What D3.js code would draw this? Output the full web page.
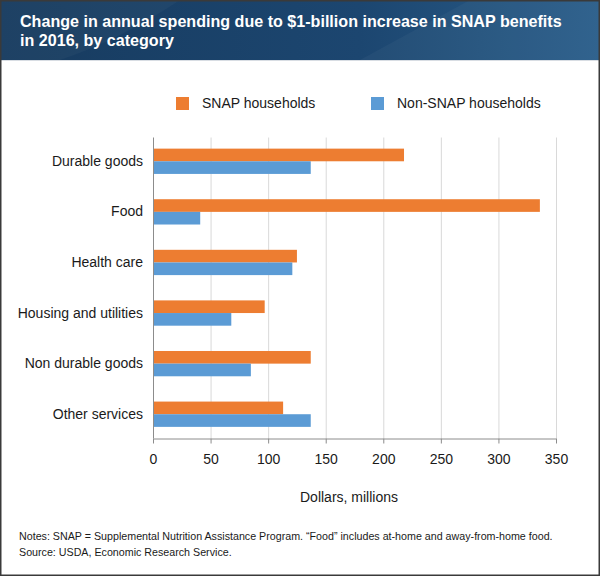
<!DOCTYPE html>
<html><head><meta charset="utf-8">
<script src="https://cdn.jsdelivr.net/npm/d3@7"></script>
<style>
html,body{margin:0;padding:0;background:#fff;}
svg{display:block;font-family:"Liberation Sans",Arial,Helvetica,sans-serif;}
</style></head>
<body>
<svg id="c" width="600" height="576"></svg>
<script>
const categories = ["Durable goods","Food","Health care","Housing and utilities","Non durable goods","Other services"];
const seriesNames = ["SNAP households","Non-SNAP households"];
const snapValues = [218, 336, 125, 97, 137, 113];
const nonSnapValues = [137, 41, 121, 68, 85, 137];
const xTicks = [0,50,100,150,200,250,300,350];
const titleLines = ["Change in annual spending due to $1-billion increase in SNAP benefits","in 2016, by category"];
const notes = ["Notes: SNAP = Supplemental Nutrition Assistance Program. \u201cFood\u201d includes at-home and away-from-home food.","Source: USDA, Economic Research Service."];
const colors = ["#ED7D31","#5B9BD5"];

const svg = d3.select("#c");
const W = 600, H = 576;

// header
const defs = svg.append("defs");
const g1 = defs.append("linearGradient").attr("id","hg").attr("x1","0").attr("x2","1").attr("y1","0").attr("y2","0");
g1.append("stop").attr("offset","0").attr("stop-color","#173b5f");
g1.append("stop").attr("offset","0.6").attr("stop-color","#1c4670");
g1.append("stop").attr("offset","1").attr("stop-color","#2a5e8a");
svg.append("rect").attr("x",0).attr("y",0).attr("width",W).attr("height",60).attr("fill","url(#hg)");
svg.append("path").attr("d","M360,60 L470,0 L600,0 L600,60 Z").attr("fill","#ffffff").attr("opacity",0.035);
svg.append("path").attr("d","M0,60 L0,0 L180,0 Q120,40 60,60 Z").attr("fill","#ffffff").attr("opacity",0.03);
svg.append("rect").attr("x",0).attr("y",60).attr("width",W).attr("height",1).attr("fill","#d8dde3");

svg.append("g").selectAll("text").data(titleLines).join("text")
  .attr("x",20).attr("y",(d,i)=>26.5+i*19.5)
  .attr("fill","#fff").attr("font-weight","bold").attr("font-size",16.1)
  .text(d=>d);

// scales
const x = d3.scaleLinear().domain([0,350]).range([153,556]);
const y = d3.scaleBand().domain(categories).range([137.5,438]).paddingInner(0.5).paddingOuter(0.22);
const ySub = d3.scaleBand().domain(seriesNames).range([0,y.bandwidth()]);

// grid
svg.append("g").selectAll("line").data(xTicks.slice(1)).join("line")
  .attr("x1",d=>x(d)+0.5).attr("x2",d=>x(d)+0.5).attr("y1",137.5).attr("y2",438)
  .attr("stroke","#d9d9d9").attr("stroke-width",1);

// bars
const rows = categories.map((c,i)=>({c, vals:[snapValues[i], nonSnapValues[i]]}));
const grp = svg.append("g").selectAll("g").data(rows).join("g")
  .attr("transform",d=>`translate(0,${y(d.c)})`);
grp.selectAll("rect").data(d=>d.vals.map((v,j)=>({v,s:seriesNames[j],j}))).join("rect")
  .attr("x",x(0)).attr("y",d=>ySub(d.s)).attr("width",d=>x(d.v)-x(0)).attr("height",ySub.bandwidth())
  .attr("fill",d=>colors[d.j]);

// x axis
const xa = svg.append("g").attr("transform","translate(0,438.5)")
  .call(d3.axisBottom(x).tickValues(xTicks).tickSize(5).tickSizeOuter(0).tickPadding(11));
xa.select(".domain").attr("stroke","#8c8c8c");
xa.selectAll(".tick line").attr("stroke","#8c8c8c");
xa.selectAll(".tick text").attr("font-size",14).attr("fill","#1a1a1a").attr("font-family","'Liberation Sans',Arial,sans-serif");

// y axis line
svg.append("line").attr("x1",x(0)+0.5).attr("x2",x(0)+0.5).attr("y1",137.5).attr("y2",438.5).attr("stroke","#8c8c8c");

// category labels
svg.append("g").selectAll("text").data(categories).join("text")
  .attr("x",143).attr("y",d=>y(d)+y.bandwidth()/2).attr("dy","0.33em")
  .attr("text-anchor","end").attr("font-size",14).attr("fill","#1a1a1a").text(d=>d);

// legend
const legX = [176, 371];
const lg = svg.append("g").selectAll("g").data(seriesNames).join("g")
  .attr("transform",(d,i)=>`translate(${legX[i]},97)`);
lg.append("rect").attr("width",13).attr("height",13).attr("fill",(d,i)=>colors[i]);
lg.append("text").attr("x",26).attr("y",6.5).attr("dy","0.35em").attr("font-size",14).attr("fill","#1a1a1a").text(d=>d);

// axis title
svg.append("text").attr("x",349).attr("y",497).attr("dy","0.35em").attr("text-anchor","middle")
  .attr("font-size",14).attr("fill","#1a1a1a").text("Dollars, millions");

// notes
svg.append("g").selectAll("text").data(notes).join("text")
  .attr("x",19).attr("y",(d,i)=>540+i*16).attr("font-size",10.7).attr("fill","#1a1a1a").text(d=>d);

// border
svg.append("rect").attr("x",0.75).attr("y",0.75).attr("width",W-1.5).attr("height",H-1.5)
  .attr("fill","none").attr("stroke","#3a3a3a").attr("stroke-width",1.5);
</script>
</body></html>
